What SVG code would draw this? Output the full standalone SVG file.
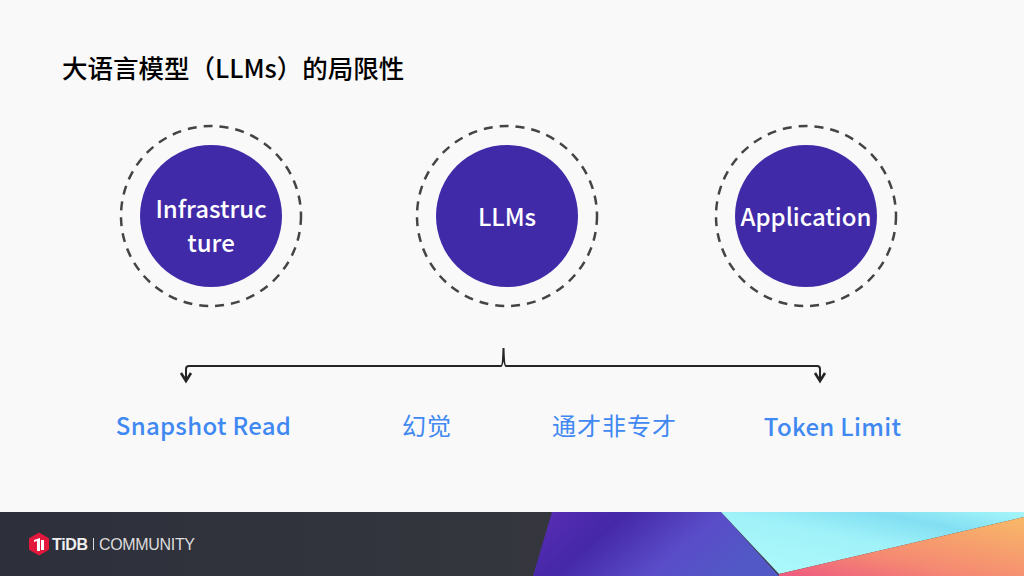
<svg xmlns="http://www.w3.org/2000/svg" width="1024" height="576" viewBox="0 0 1024 576">
<defs>
<style>
.f{font-family:"Noto Sans CJK SC","Noto Sans",sans-serif}
.d{fill:#412aa8}
.r{fill:none;stroke:#444;stroke-width:2.5;stroke-dasharray:9 7}
.n{fill:#fff;font-size:24px;text-anchor:middle;font-weight:500}
.b{fill:#4088f2;font-size:24px;text-anchor:middle;letter-spacing:.3px;font-weight:500}
.z{letter-spacing:1px;font-weight:400}
.c{fill:none;stroke:#262626;stroke-width:2}
.h{fill:none;stroke:#262626;stroke-width:2.600}
</style>
<linearGradient id="bg" x1="0" y1="0" x2="1" y2="0"><stop offset="0" stop-color="#2d2f3b"/><stop offset="1" stop-color="#3c3d40"/></linearGradient>
<linearGradient id="p" x1="0" y1="0" x2="1" y2="0.3"><stop offset="0" stop-color="#5a2db5"/><stop offset=".35" stop-color="#4528a8"/><stop offset=".7" stop-color="#5a4cc8"/><stop offset="1" stop-color="#5258c6"/></linearGradient>
<linearGradient id="cy" x1="0" y1="1" x2="1" y2="0"><stop offset="0" stop-color="#aefbfb"/><stop offset=".5" stop-color="#a0f2f9"/><stop offset=".75" stop-color="#82dff2"/><stop offset="1" stop-color="#a6f6fa"/></linearGradient>
<linearGradient id="o" x1="0" y1="1" x2="0.9" y2="0"><stop offset="0" stop-color="#ee5a80"/><stop offset=".4" stop-color="#f58a72"/><stop offset="1" stop-color="#f8b668"/></linearGradient>
</defs>
<rect width="1024" height="576" fill="#f9f9f9"/>
<text class="f" x="62" y="78" font-size="25.500" font-weight="500" fill="#000">大语言模型（LLMs）的局限性</text>
<g id="infra"><circle class="r" cx="211" cy="216" r="90"/><circle class="d" cx="211" cy="216" r="71"/><text class="f n" x="211" y="218">Infrastruc</text><text class="f n" x="211" y="252">ture</text></g>
<g id="llms"><circle class="r" cx="507" cy="216" r="90"/><circle class="d" cx="507" cy="216" r="71"/><text class="f n" x="507" y="226">LLMs</text></g>
<g id="app"><circle class="r" cx="806" cy="216" r="90"/><circle class="d" cx="806" cy="216" r="71"/><text class="f n" x="806" y="226">Application</text></g>
<g id="connectors"><path class="c" d="M186 381V369Q186 366 189 366H501Q503 366 503.500 348Q504 366 506 366H817Q820 366 820 369V381"/><path class="h" d="M181 373L186 381L191 373M815 373L820 381L825 373"/></g>
<g id="l1"><text class="f b" x="203.500" y="435">Snapshot Read</text></g>
<g id="l2"><text class="f b z" x="427" y="435">幻觉</text></g>
<g id="l3"><text class="f b z" x="614.500" y="435">通才非专才</text></g>
<g id="l4"><text class="f b" x="832.500" y="436">Token Limit</text></g>
<g id="footer">
<rect y="512" width="1024" height="64" fill="url(#bg)"/>
<path d="M552 512H721L779 576H533Z" fill="url(#p)"/>
<path d="M721 512H1024V517L779 574Z" fill="url(#cy)"/>
<path d="M1024 517V576H779V574Z" fill="url(#o)"/>
<path d="M39 533L48.500 538.500V549.500L39 555L29.500 549.500V538.500Z" fill="#e2183c" stroke="#e2183c" stroke-linejoin="round"/>
<path d="M34 540L40 538V551H37V541L34 542ZM41 540H44V550H41Z" fill="#fff"/>
<text x="52" y="550" font-family="Liberation Sans,sans-serif" font-size="16" font-weight="700" fill="#eee" textLength="36">TiDB</text>
<rect x="93" y="538" width="1" height="12" fill="#ddd"/>
<text x="99" y="550" font-family="Liberation Sans,sans-serif" font-size="16" fill="#ddd" textLength="96">COMMUNITY</text>
</g>
</svg>
